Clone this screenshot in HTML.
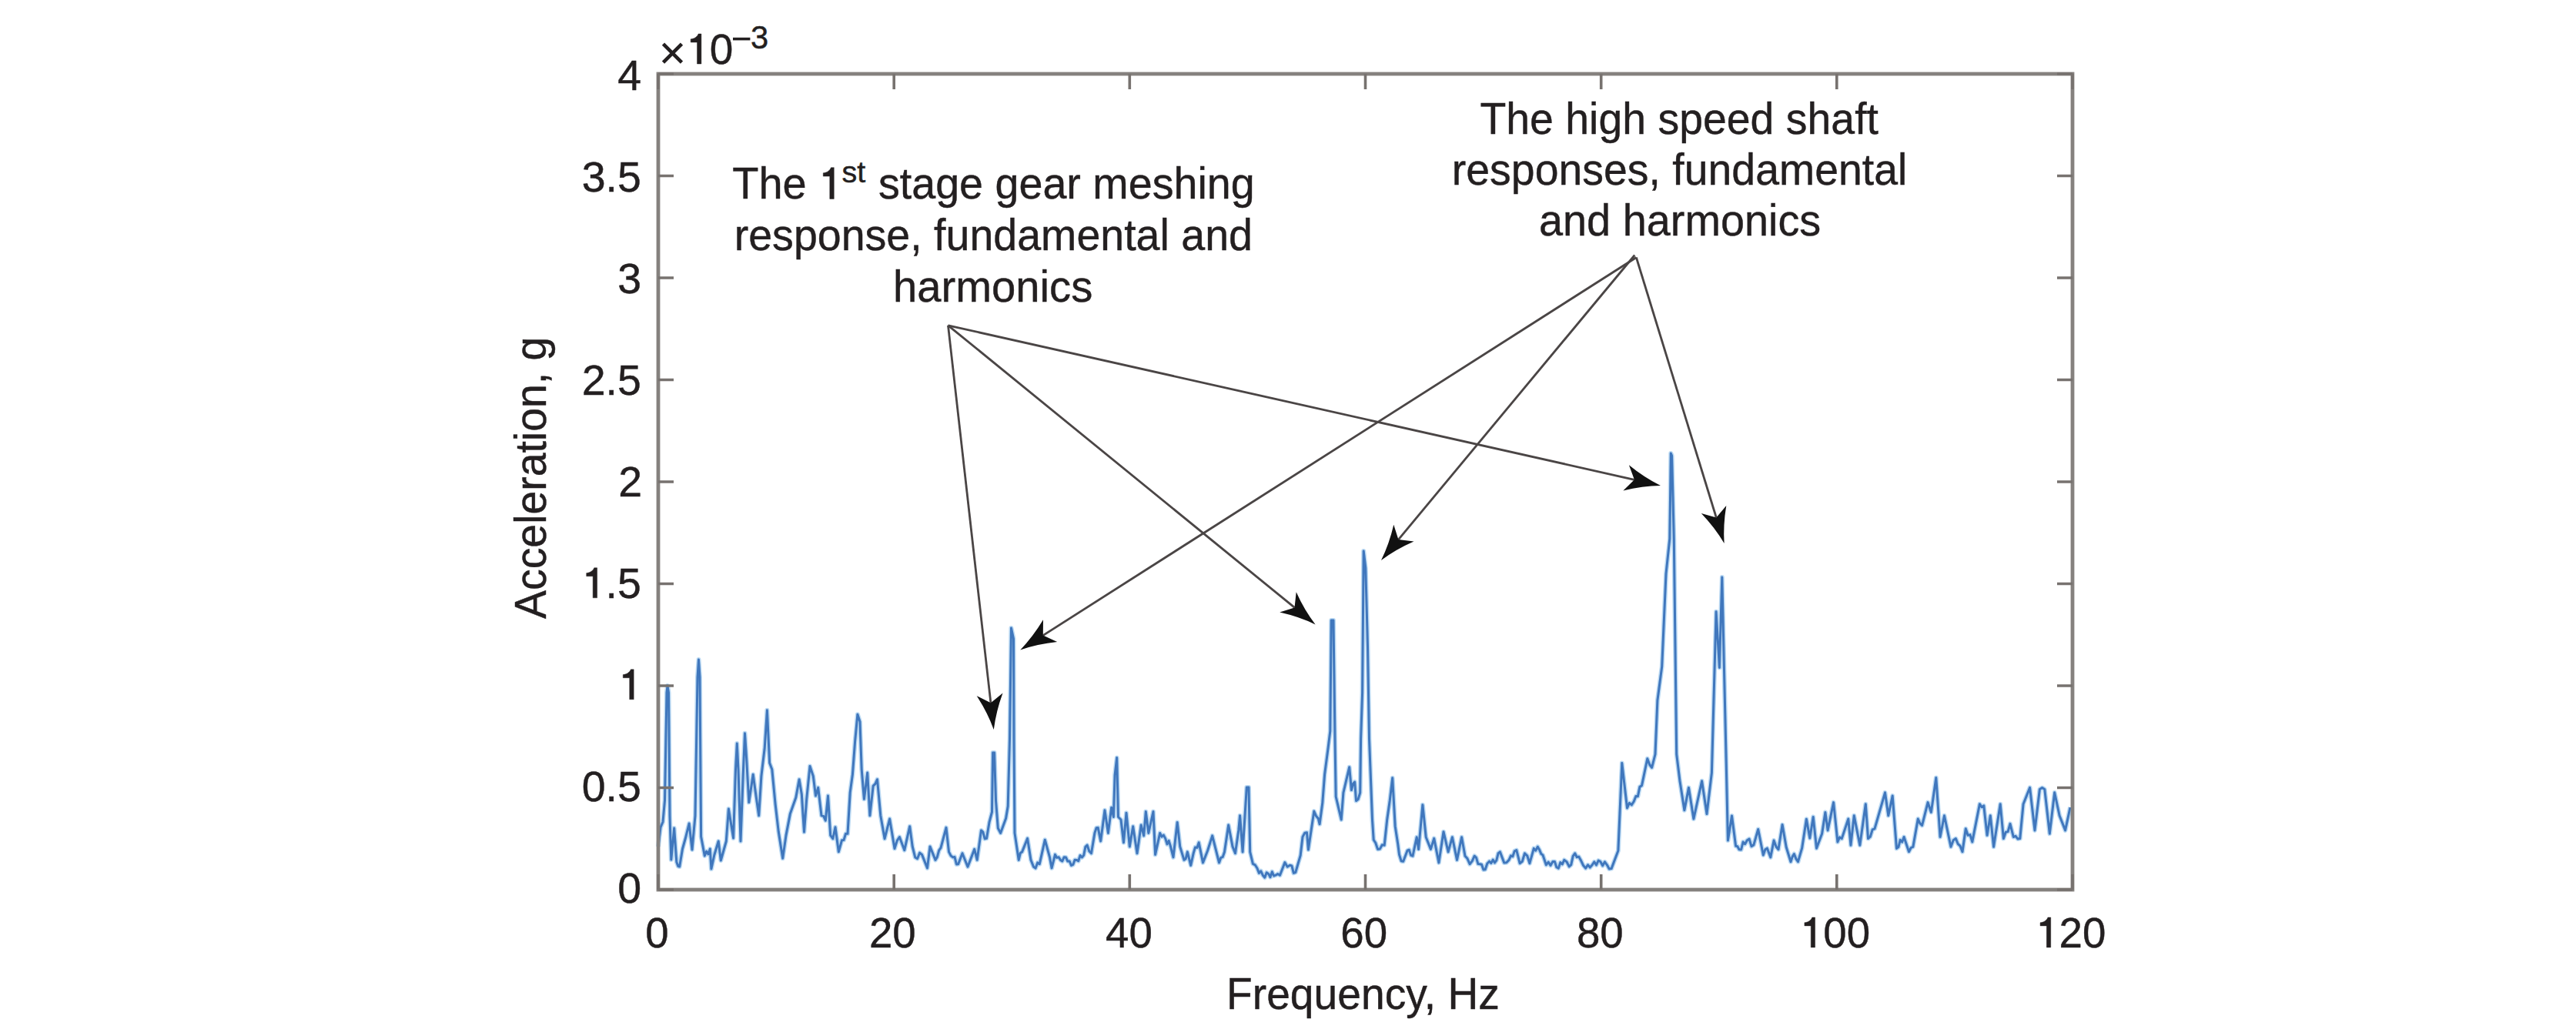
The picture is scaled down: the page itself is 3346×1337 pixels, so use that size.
<!DOCTYPE html>
<html><head><meta charset="utf-8"><style>
html,body{margin:0;padding:0;background:#fff;width:3346px;height:1337px;overflow:hidden}
svg{display:block;font-family:"Liberation Sans",sans-serif;fill:#231f20} text{stroke:#231f20;stroke-width:0.45px} .one{fill-opacity:0;stroke-opacity:0}
</style></head><body>
<svg width="3346" height="1337" viewBox="0 0 3346 1337">
<rect width="3346" height="1337" fill="#fff"/>
<polyline points="855.0,1100.0 858.0,1075.0 861.0,1068.0 863.5,1040.0 866.0,900.0 867.0,891.0 868.5,900.0 870.0,1060.0 871.8,1117.0 875.7,1076.0 878.8,1120.0 880.8,1125.5 882.7,1126.0 886.5,1103.0 890.4,1089.0 895.1,1070.0 899.0,1104.0 903.0,1060.0 906.0,880.0 907.5,857.0 909.0,880.0 910.6,1087.0 915.3,1112.0 917.6,1106.2 920.0,1109.8 922.3,1103.0 923.9,1129.0 927.8,1111.0 933.2,1093.0 936.3,1118.0 943.3,1093.0 946.4,1051.0 952.6,1089.0 955.5,1000.0 957.3,966.0 959.0,1000.0 962.0,1093.0 965.5,1000.0 967.5,952.8 969.6,984.9 972.8,1042.6 978.2,1006.3 981.4,1029.8 985.7,1059.7 988.9,1008.4 993.2,972.0 996.4,922.8 999.6,991.3 1002.8,999.8 1007.1,1044.8 1011.3,1081.1 1016.7,1115.3 1021.0,1085.4 1026.3,1057.6 1033.8,1036.2 1038.1,1012.7 1041.3,1031.9 1044.5,1081.1 1047.7,1038.3 1052.0,995.6 1056.3,1008.4 1059.5,1034.1 1062.7,1023.4 1067.0,1059.7 1069.7,1060.4 1072.3,1066.1 1075.5,1034.1 1078.7,1085.4 1081.8,1089.7 1085.0,1074.7 1089.3,1106.8 1093.5,1091.8 1096.0,1091.6 1098.5,1083.3 1101.0,1083.3 1104.2,1029.8 1107.4,1006.3 1110.6,963.5 1113.9,928.2 1117.0,937.8 1119.2,999.8 1122.4,1038.3 1126.7,1004.1 1129.9,1059.7 1134.2,1021.2 1136.8,1018.7 1139.5,1012.7 1143.8,1059.7 1149.1,1089.7 1155.6,1064.0 1162.0,1102.5 1165.2,1092.4 1168.4,1087.5 1174.8,1104.7 1181.7,1073.7 1185.2,1099.9 1188.7,1113.9 1191.6,1115.7 1194.6,1108.1 1197.5,1110.4 1204.5,1127.9 1208.0,1099.9 1215.0,1117.4 1217.3,1113.6 1219.7,1104.9 1222.0,1101.7 1229.0,1075.4 1232.5,1106.9 1235.1,1111.9 1237.7,1113.9 1240.0,1113.4 1242.4,1122.9 1244.7,1122.7 1250.0,1108.7 1257.0,1126.2 1265.7,1103.4 1269.2,1117.4 1274.5,1078.9 1276.8,1081.1 1279.2,1089.9 1281.5,1089.4 1285.0,1068.4 1288.5,1055.0 1289.6,978.0 1291.6,978.0 1293.5,1040.0 1296.3,1076.0 1299.6,1082.4 1306.6,1063.2 1309.2,1047.5 1311.5,960.0 1313.5,816.0 1316.5,830.0 1317.0,960.0 1318.0,1082.4 1323.2,1117.4 1325.4,1108.2 1327.6,1106.9 1334.6,1089.4 1339.0,1117.4 1342.5,1126.2 1345.1,1128.1 1347.7,1120.9 1350.3,1122.7 1357.3,1091.2 1363.5,1113.9 1366.1,1127.9 1370.5,1110.4 1372.8,1114.4 1375.2,1113.8 1377.5,1117.4 1379.8,1118.9 1382.2,1113.7 1384.5,1113.9 1386.8,1119.1 1389.2,1119.0 1391.5,1124.4 1393.8,1123.4 1396.1,1117.2 1398.4,1117.4 1400.7,1118.7 1403.1,1111.5 1405.4,1113.9 1407.7,1111.3 1409.9,1100.4 1412.2,1098.2 1414.8,1106.0 1417.5,1108.7 1421.9,1082.4 1424.1,1075.8 1426.2,1075.4 1429.7,1092.9 1435.0,1052.7 1439.4,1082.4 1443.7,1049.2 1446.4,1061.5 1448.1,1007.2 1450.7,984.5 1452.5,1061.5 1456.0,1065.0 1459.5,1094.7 1463.0,1056.2 1467.3,1099.9 1471.7,1073.7 1477.0,1108.7 1482.2,1072.0 1485.7,1085.9 1488.3,1054.5 1491.8,1082.4 1498.0,1054.5 1500.6,1110.4 1506.7,1082.4 1509.0,1087.2 1511.4,1085.1 1513.7,1089.4 1516.0,1096.9 1518.2,1092.4 1520.5,1099.9 1524.0,1113.9 1529.2,1068.4 1532.7,1099.9 1538.0,1117.4 1540.2,1115.7 1542.4,1106.9 1546.7,1124.4 1550.2,1108.7 1552.5,1100.9 1554.9,1101.4 1557.2,1094.7 1562.5,1120.9 1568.6,1105.2 1574.7,1085.9 1579.1,1103.4 1583.5,1120.9 1585.8,1114.4 1588.2,1113.6 1590.5,1106.9 1595.7,1072.0 1601.0,1099.9 1604.5,1108.7 1608.8,1078.9 1610.6,1059.7 1614.1,1106.9 1619.3,1023.0 1622.0,1023.0 1623.7,1106.9 1627.4,1122.4 1630.2,1123.8 1632.9,1128.0 1635.4,1134.4 1637.8,1131.8 1640.3,1137.2 1642.8,1140.2 1645.2,1133.7 1647.7,1135.4 1650.0,1139.7 1652.3,1132.7 1654.6,1138.0 1656.9,1137.2 1659.7,1135.4 1662.5,1137.2 1668.9,1120.6 1672.2,1126.2 1675.4,1124.3 1677.9,1124.9 1680.3,1134.4 1682.8,1133.5 1689.2,1111.4 1692.0,1087.4 1694.8,1082.3 1697.5,1081.8 1699.4,1104.0 1706.8,1054.1 1709.5,1060.2 1712.3,1063.4 1714.1,1070.8 1717.8,1043.1 1720.6,1006.2 1725.2,971.1 1727.8,950.0 1729.2,806.0 1732.0,806.0 1734.0,960.0 1735.2,1035.2 1742.2,1065.0 1744.9,1030.0 1752.7,996.7 1755.4,1026.5 1757.6,1018.3 1759.7,1016.0 1761.5,1040.5 1764.1,1038.6 1766.7,1030.0 1767.6,960.0 1769.6,900.0 1771.2,716.0 1773.8,738.0 1776.5,840.0 1778.5,960.0 1782.5,1065.0 1784.2,1091.2 1786.8,1095.3 1789.5,1103.4 1792.4,1103.1 1795.3,1097.8 1798.2,1098.2 1801.7,1065.0 1805.2,1040.5 1808.7,1010.7 1812.2,1073.7 1815.7,1096.4 1817.5,1110.4 1820.1,1118.7 1822.7,1119.2 1828.0,1105.2 1830.3,1104.2 1832.7,1111.4 1835.0,1112.2 1840.2,1087.7 1842.6,1103.4 1847.9,1045.7 1852.2,1087.7 1858.4,1103.4 1862.7,1089.4 1868.9,1120.9 1875.0,1080.7 1881.1,1106.9 1886.4,1087.7 1892.5,1117.4 1898.6,1087.7 1903.0,1112.2 1906.0,1115.6 1909.1,1122.7 1912.2,1118.9 1915.2,1112.2 1917.5,1114.3 1919.9,1122.6 1922.2,1122.7 1924.5,1123.3 1926.9,1130.1 1929.2,1129.7 1931.8,1122.0 1934.5,1119.2 1936.8,1121.5 1939.2,1117.1 1941.5,1120.9 1943.8,1117.8 1946.1,1108.6 1948.4,1106.9 1953.7,1120.9 1956.8,1120.7 1960.0,1117.4 1962.5,1111.8 1964.9,1112.8 1967.3,1105.8 1969.8,1104.6 1974.1,1121.7 1977.3,1119.2 1980.5,1108.8 1983.7,1111.8 1986.9,1121.7 1992.3,1102.4 1994.8,1105.2 1997.3,1100.2 1999.8,1104.6 2001.9,1109.6 2004.0,1111.0 2008.3,1123.8 2011.2,1120.1 2014.0,1124.5 2016.9,1119.5 2019.4,1119.4 2021.8,1126.7 2024.3,1128.1 2026.8,1120.6 2029.3,1122.8 2031.8,1117.4 2035.0,1119.7 2038.2,1125.9 2040.7,1123.6 2043.2,1112.4 2045.7,1108.8 2048.2,1113.7 2050.7,1113.1 2053.2,1117.4 2056.4,1124.2 2059.6,1128.1 2062.5,1123.8 2065.3,1127.1 2068.2,1123.8 2070.8,1119.8 2073.5,1123.9 2076.2,1118.1 2078.8,1119.5 2081.7,1124.8 2084.5,1119.8 2087.4,1123.8 2090.2,1129.0 2093.1,1128.6 2101.9,1105.3 2106.8,991.6 2113.5,1049.9 2116.4,1043.4 2119.4,1045.8 2122.3,1041.2 2124.9,1034.5 2127.4,1034.7 2129.9,1022.4 2132.5,1020.8 2139.8,985.8 2142.7,993.5 2145.6,997.4 2150.0,980.0 2152.9,910.0 2158.7,866.2 2164.0,745.7 2168.8,700.0 2170.3,589.0 2171.6,592.0 2174.3,700.0 2176.0,840.0 2177.7,980.0 2182.0,1015.0 2187.9,1052.8 2193.5,1023.4 2199.9,1064.0 2210.6,1014.8 2217.0,1057.5 2223.4,1004.1 2229.1,794.8 2233.4,867.4 2236.8,750.0 2242.2,990.0 2244.4,1092.0 2249.5,1060.0 2254.6,1099.3 2256.8,1099.8 2259.0,1103.7 2261.6,1104.0 2264.1,1094.0 2266.6,1096.7 2269.2,1092.0 2272.1,1090.1 2275.0,1099.6 2277.9,1097.9 2283.7,1077.5 2290.3,1111.0 2292.9,1103.7 2295.4,1102.2 2299.8,1113.9 2304.1,1092.0 2307.1,1100.2 2310.0,1103.7 2315.1,1071.6 2320.2,1100.8 2326.0,1119.7 2328.2,1113.1 2330.4,1109.5 2332.9,1115.9 2335.5,1119.7 2340.6,1102.2 2346.4,1064.3 2350.8,1089.1 2355.2,1061.4 2359.5,1102.2 2366.6,1083.2 2370.9,1055.4 2374.1,1078.9 2381.6,1042.6 2386.9,1093.9 2389.6,1087.9 2392.3,1089.6 2400.8,1064.0 2404.0,1098.2 2408.3,1059.7 2415.8,1098.2 2423.3,1044.7 2426.5,1089.6 2429.3,1087.2 2432.2,1077.9 2435.0,1076.8 2448.5,1029.8 2452.8,1059.7 2458.2,1034.0 2463.5,1102.4 2465.9,1100.6 2468.3,1091.4 2470.7,1094.1 2473.1,1087.5 2479.5,1106.7 2482.2,1101.5 2484.9,1100.3 2491.3,1064.0 2493.9,1069.9 2496.6,1072.5 2504.1,1042.6 2508.4,1055.4 2514.8,1010.5 2520.1,1087.5 2525.5,1059.7 2534.0,1100.3 2537.2,1091.7 2540.4,1089.6 2543.3,1096.7 2546.1,1099.2 2549.0,1106.7 2553.3,1076.8 2556.1,1085.3 2559.0,1084.6 2561.8,1093.9 2571.4,1044.7 2574.1,1048.7 2576.8,1046.9 2581.1,1085.3 2585.3,1059.7 2589.6,1100.3 2598.2,1044.7 2602.4,1089.6 2605.3,1081.2 2608.1,1080.6 2611.0,1070.4 2615.3,1087.5 2618.1,1086.4 2621.0,1090.1 2623.8,1089.6 2628.1,1044.7 2636.6,1023.4 2643.0,1078.9 2649.4,1025.5 2652.6,1023.5 2655.8,1025.5 2662.3,1083.2 2668.7,1029.8 2675.1,1059.7 2682.6,1078.9 2689.0,1049.0" fill="none" stroke="#bcdaf3" stroke-width="6.0" stroke-linejoin="round"/>
<polyline points="855.0,1100.0 858.0,1075.0 861.0,1068.0 863.5,1040.0 866.0,900.0 867.0,891.0 868.5,900.0 870.0,1060.0 871.8,1117.0 875.7,1076.0 878.8,1120.0 880.8,1125.5 882.7,1126.0 886.5,1103.0 890.4,1089.0 895.1,1070.0 899.0,1104.0 903.0,1060.0 906.0,880.0 907.5,857.0 909.0,880.0 910.6,1087.0 915.3,1112.0 917.6,1106.2 920.0,1109.8 922.3,1103.0 923.9,1129.0 927.8,1111.0 933.2,1093.0 936.3,1118.0 943.3,1093.0 946.4,1051.0 952.6,1089.0 955.5,1000.0 957.3,966.0 959.0,1000.0 962.0,1093.0 965.5,1000.0 967.5,952.8 969.6,984.9 972.8,1042.6 978.2,1006.3 981.4,1029.8 985.7,1059.7 988.9,1008.4 993.2,972.0 996.4,922.8 999.6,991.3 1002.8,999.8 1007.1,1044.8 1011.3,1081.1 1016.7,1115.3 1021.0,1085.4 1026.3,1057.6 1033.8,1036.2 1038.1,1012.7 1041.3,1031.9 1044.5,1081.1 1047.7,1038.3 1052.0,995.6 1056.3,1008.4 1059.5,1034.1 1062.7,1023.4 1067.0,1059.7 1069.7,1060.4 1072.3,1066.1 1075.5,1034.1 1078.7,1085.4 1081.8,1089.7 1085.0,1074.7 1089.3,1106.8 1093.5,1091.8 1096.0,1091.6 1098.5,1083.3 1101.0,1083.3 1104.2,1029.8 1107.4,1006.3 1110.6,963.5 1113.9,928.2 1117.0,937.8 1119.2,999.8 1122.4,1038.3 1126.7,1004.1 1129.9,1059.7 1134.2,1021.2 1136.8,1018.7 1139.5,1012.7 1143.8,1059.7 1149.1,1089.7 1155.6,1064.0 1162.0,1102.5 1165.2,1092.4 1168.4,1087.5 1174.8,1104.7 1181.7,1073.7 1185.2,1099.9 1188.7,1113.9 1191.6,1115.7 1194.6,1108.1 1197.5,1110.4 1204.5,1127.9 1208.0,1099.9 1215.0,1117.4 1217.3,1113.6 1219.7,1104.9 1222.0,1101.7 1229.0,1075.4 1232.5,1106.9 1235.1,1111.9 1237.7,1113.9 1240.0,1113.4 1242.4,1122.9 1244.7,1122.7 1250.0,1108.7 1257.0,1126.2 1265.7,1103.4 1269.2,1117.4 1274.5,1078.9 1276.8,1081.1 1279.2,1089.9 1281.5,1089.4 1285.0,1068.4 1288.5,1055.0 1289.6,978.0 1291.6,978.0 1293.5,1040.0 1296.3,1076.0 1299.6,1082.4 1306.6,1063.2 1309.2,1047.5 1311.5,960.0 1313.5,816.0 1316.5,830.0 1317.0,960.0 1318.0,1082.4 1323.2,1117.4 1325.4,1108.2 1327.6,1106.9 1334.6,1089.4 1339.0,1117.4 1342.5,1126.2 1345.1,1128.1 1347.7,1120.9 1350.3,1122.7 1357.3,1091.2 1363.5,1113.9 1366.1,1127.9 1370.5,1110.4 1372.8,1114.4 1375.2,1113.8 1377.5,1117.4 1379.8,1118.9 1382.2,1113.7 1384.5,1113.9 1386.8,1119.1 1389.2,1119.0 1391.5,1124.4 1393.8,1123.4 1396.1,1117.2 1398.4,1117.4 1400.7,1118.7 1403.1,1111.5 1405.4,1113.9 1407.7,1111.3 1409.9,1100.4 1412.2,1098.2 1414.8,1106.0 1417.5,1108.7 1421.9,1082.4 1424.1,1075.8 1426.2,1075.4 1429.7,1092.9 1435.0,1052.7 1439.4,1082.4 1443.7,1049.2 1446.4,1061.5 1448.1,1007.2 1450.7,984.5 1452.5,1061.5 1456.0,1065.0 1459.5,1094.7 1463.0,1056.2 1467.3,1099.9 1471.7,1073.7 1477.0,1108.7 1482.2,1072.0 1485.7,1085.9 1488.3,1054.5 1491.8,1082.4 1498.0,1054.5 1500.6,1110.4 1506.7,1082.4 1509.0,1087.2 1511.4,1085.1 1513.7,1089.4 1516.0,1096.9 1518.2,1092.4 1520.5,1099.9 1524.0,1113.9 1529.2,1068.4 1532.7,1099.9 1538.0,1117.4 1540.2,1115.7 1542.4,1106.9 1546.7,1124.4 1550.2,1108.7 1552.5,1100.9 1554.9,1101.4 1557.2,1094.7 1562.5,1120.9 1568.6,1105.2 1574.7,1085.9 1579.1,1103.4 1583.5,1120.9 1585.8,1114.4 1588.2,1113.6 1590.5,1106.9 1595.7,1072.0 1601.0,1099.9 1604.5,1108.7 1608.8,1078.9 1610.6,1059.7 1614.1,1106.9 1619.3,1023.0 1622.0,1023.0 1623.7,1106.9 1627.4,1122.4 1630.2,1123.8 1632.9,1128.0 1635.4,1134.4 1637.8,1131.8 1640.3,1137.2 1642.8,1140.2 1645.2,1133.7 1647.7,1135.4 1650.0,1139.7 1652.3,1132.7 1654.6,1138.0 1656.9,1137.2 1659.7,1135.4 1662.5,1137.2 1668.9,1120.6 1672.2,1126.2 1675.4,1124.3 1677.9,1124.9 1680.3,1134.4 1682.8,1133.5 1689.2,1111.4 1692.0,1087.4 1694.8,1082.3 1697.5,1081.8 1699.4,1104.0 1706.8,1054.1 1709.5,1060.2 1712.3,1063.4 1714.1,1070.8 1717.8,1043.1 1720.6,1006.2 1725.2,971.1 1727.8,950.0 1729.2,806.0 1732.0,806.0 1734.0,960.0 1735.2,1035.2 1742.2,1065.0 1744.9,1030.0 1752.7,996.7 1755.4,1026.5 1757.6,1018.3 1759.7,1016.0 1761.5,1040.5 1764.1,1038.6 1766.7,1030.0 1767.6,960.0 1769.6,900.0 1771.2,716.0 1773.8,738.0 1776.5,840.0 1778.5,960.0 1782.5,1065.0 1784.2,1091.2 1786.8,1095.3 1789.5,1103.4 1792.4,1103.1 1795.3,1097.8 1798.2,1098.2 1801.7,1065.0 1805.2,1040.5 1808.7,1010.7 1812.2,1073.7 1815.7,1096.4 1817.5,1110.4 1820.1,1118.7 1822.7,1119.2 1828.0,1105.2 1830.3,1104.2 1832.7,1111.4 1835.0,1112.2 1840.2,1087.7 1842.6,1103.4 1847.9,1045.7 1852.2,1087.7 1858.4,1103.4 1862.7,1089.4 1868.9,1120.9 1875.0,1080.7 1881.1,1106.9 1886.4,1087.7 1892.5,1117.4 1898.6,1087.7 1903.0,1112.2 1906.0,1115.6 1909.1,1122.7 1912.2,1118.9 1915.2,1112.2 1917.5,1114.3 1919.9,1122.6 1922.2,1122.7 1924.5,1123.3 1926.9,1130.1 1929.2,1129.7 1931.8,1122.0 1934.5,1119.2 1936.8,1121.5 1939.2,1117.1 1941.5,1120.9 1943.8,1117.8 1946.1,1108.6 1948.4,1106.9 1953.7,1120.9 1956.8,1120.7 1960.0,1117.4 1962.5,1111.8 1964.9,1112.8 1967.3,1105.8 1969.8,1104.6 1974.1,1121.7 1977.3,1119.2 1980.5,1108.8 1983.7,1111.8 1986.9,1121.7 1992.3,1102.4 1994.8,1105.2 1997.3,1100.2 1999.8,1104.6 2001.9,1109.6 2004.0,1111.0 2008.3,1123.8 2011.2,1120.1 2014.0,1124.5 2016.9,1119.5 2019.4,1119.4 2021.8,1126.7 2024.3,1128.1 2026.8,1120.6 2029.3,1122.8 2031.8,1117.4 2035.0,1119.7 2038.2,1125.9 2040.7,1123.6 2043.2,1112.4 2045.7,1108.8 2048.2,1113.7 2050.7,1113.1 2053.2,1117.4 2056.4,1124.2 2059.6,1128.1 2062.5,1123.8 2065.3,1127.1 2068.2,1123.8 2070.8,1119.8 2073.5,1123.9 2076.2,1118.1 2078.8,1119.5 2081.7,1124.8 2084.5,1119.8 2087.4,1123.8 2090.2,1129.0 2093.1,1128.6 2101.9,1105.3 2106.8,991.6 2113.5,1049.9 2116.4,1043.4 2119.4,1045.8 2122.3,1041.2 2124.9,1034.5 2127.4,1034.7 2129.9,1022.4 2132.5,1020.8 2139.8,985.8 2142.7,993.5 2145.6,997.4 2150.0,980.0 2152.9,910.0 2158.7,866.2 2164.0,745.7 2168.8,700.0 2170.3,589.0 2171.6,592.0 2174.3,700.0 2176.0,840.0 2177.7,980.0 2182.0,1015.0 2187.9,1052.8 2193.5,1023.4 2199.9,1064.0 2210.6,1014.8 2217.0,1057.5 2223.4,1004.1 2229.1,794.8 2233.4,867.4 2236.8,750.0 2242.2,990.0 2244.4,1092.0 2249.5,1060.0 2254.6,1099.3 2256.8,1099.8 2259.0,1103.7 2261.6,1104.0 2264.1,1094.0 2266.6,1096.7 2269.2,1092.0 2272.1,1090.1 2275.0,1099.6 2277.9,1097.9 2283.7,1077.5 2290.3,1111.0 2292.9,1103.7 2295.4,1102.2 2299.8,1113.9 2304.1,1092.0 2307.1,1100.2 2310.0,1103.7 2315.1,1071.6 2320.2,1100.8 2326.0,1119.7 2328.2,1113.1 2330.4,1109.5 2332.9,1115.9 2335.5,1119.7 2340.6,1102.2 2346.4,1064.3 2350.8,1089.1 2355.2,1061.4 2359.5,1102.2 2366.6,1083.2 2370.9,1055.4 2374.1,1078.9 2381.6,1042.6 2386.9,1093.9 2389.6,1087.9 2392.3,1089.6 2400.8,1064.0 2404.0,1098.2 2408.3,1059.7 2415.8,1098.2 2423.3,1044.7 2426.5,1089.6 2429.3,1087.2 2432.2,1077.9 2435.0,1076.8 2448.5,1029.8 2452.8,1059.7 2458.2,1034.0 2463.5,1102.4 2465.9,1100.6 2468.3,1091.4 2470.7,1094.1 2473.1,1087.5 2479.5,1106.7 2482.2,1101.5 2484.9,1100.3 2491.3,1064.0 2493.9,1069.9 2496.6,1072.5 2504.1,1042.6 2508.4,1055.4 2514.8,1010.5 2520.1,1087.5 2525.5,1059.7 2534.0,1100.3 2537.2,1091.7 2540.4,1089.6 2543.3,1096.7 2546.1,1099.2 2549.0,1106.7 2553.3,1076.8 2556.1,1085.3 2559.0,1084.6 2561.8,1093.9 2571.4,1044.7 2574.1,1048.7 2576.8,1046.9 2581.1,1085.3 2585.3,1059.7 2589.6,1100.3 2598.2,1044.7 2602.4,1089.6 2605.3,1081.2 2608.1,1080.6 2611.0,1070.4 2615.3,1087.5 2618.1,1086.4 2621.0,1090.1 2623.8,1089.6 2628.1,1044.7 2636.6,1023.4 2643.0,1078.9 2649.4,1025.5 2652.6,1023.5 2655.8,1025.5 2662.3,1083.2 2668.7,1029.8 2675.1,1059.7 2682.6,1078.9 2689.0,1049.0" fill="none" stroke="#4077bd" stroke-width="3.0" stroke-linejoin="round"/>
<rect x="855" y="96" width="1837" height="1060" fill="none" stroke="#85817e" stroke-width="4.8"/>
<path d="M855,96.0H875M2692,96.0H2672M855,228.5H875M2692,228.5H2672M855,361.0H875M2692,361.0H2672M855,493.5H875M2692,493.5H2672M855,626.0H875M2692,626.0H2672M855,758.5H875M2692,758.5H2672M855,891.0H875M2692,891.0H2672M855,1023.5H875M2692,1023.5H2672M855,1156.0H875M2692,1156.0H2672M855.0,1156V1136M855.0,96V116M1161.2,1156V1136M1161.2,96V116M1467.3,1156V1136M1467.3,96V116M1773.5,1156V1136M1773.5,96V116M2079.7,1156V1136M2079.7,96V116M2385.8,1156V1136M2385.8,96V116M2692.0,1156V1136M2692.0,96V116" stroke="#77726f" stroke-width="3.6" fill="none"/>
<text transform="translate(802.26,1172.80) scale(1.0000,1)" font-size="55.5" >0</text>
<text transform="translate(755.68,1040.80) scale(1.0000,1)" font-size="55.5" >0.5</text>
<text transform="translate(803.25,908.80) scale(1.0000,1)" font-size="55.5" ><tspan class="one">1</tspan></text>
<text transform="translate(755.68,776.80) scale(1.0000,1)" font-size="55.5" ><tspan class="one">1</tspan>.5</text>
<text transform="translate(803.25,644.80) scale(1.0000,1)" font-size="55.5" >2</text>
<text transform="translate(755.68,512.80) scale(1.0000,1)" font-size="55.5" >2.5</text>
<text transform="translate(802.26,380.80) scale(1.0000,1)" font-size="55.5" >3</text>
<text transform="translate(755.68,248.80) scale(1.0000,1)" font-size="55.5" >3.5</text>
<text transform="translate(802.26,116.80) scale(1.0000,1)" font-size="55.5" >4</text>
<text transform="translate(838.37,1231.00) scale(0.9850,1)" font-size="55.5" >0</text>
<text transform="translate(1128.92,1231.00) scale(0.9850,1)" font-size="55.5" >20</text>
<text transform="translate(1436.06,1231.00) scale(0.9850,1)" font-size="55.5" >40</text>
<text transform="translate(1741.25,1231.00) scale(0.9850,1)" font-size="55.5" >60</text>
<text transform="translate(2047.90,1231.00) scale(0.9850,1)" font-size="55.5" >80</text>
<text transform="translate(2337.96,1231.00) scale(0.9850,1)" font-size="55.5" ><tspan class="one">1</tspan>00</text>
<text transform="translate(2644.13,1231.00) scale(0.9850,1)" font-size="55.5" ><tspan class="one">1</tspan>20</text>
<path d="M861.5,57.2L885.5,81.2M885.5,57.2L861.5,81.2" stroke="#231f20" stroke-width="4.6" fill="none"/>
<text transform="translate(891.18,83.00) scale(0.9900,1)" font-size="55.5" ><tspan class="one">1</tspan>0</text>
<rect x="952" y="48.8" width="22.4" height="3.6" fill="#231f20"/>
<text transform="translate(974.91,62.80) scale(0.9700,1)" font-size="43" >3</text>
<text transform="translate(1593.07,1310.60) scale(0.9518,1)" font-size="58" >Frequency, Hz</text>
<g transform="translate(709,804) rotate(-90)"><text transform="scale(0.9550,1)" font-size="58" x="0.00" y="0">Acceleration, g</text></g>
<text transform="translate(953.73,325.00) scale(0.9579,1)" font-size="58" >response, fundamental and</text>
<text transform="translate(1159.98,391.60) scale(0.9693,1)" font-size="58" >harmonics</text>
<text transform="translate(951.20,258.40) scale(0.9650,1)" font-size="58" >The <tspan class="one">1</tspan></text>
<text transform="translate(1093.5,236.8) scale(1.04,1)" font-size="38">st</text>
<text transform="translate(1140.91,258.40) scale(0.9598,1)" font-size="58" > stage gear meshing</text>
<text transform="translate(1922.41,174.00) scale(0.9555,1)" font-size="58" >The high speed shaft</text>
<text transform="translate(1885.84,239.70) scale(0.9555,1)" font-size="58" >responses, fundamental</text>
<text transform="translate(1999.01,306.30) scale(0.9629,1)" font-size="58" >and harmonics</text>
<line x1="1231.5" y1="422.8" x2="1286.9" y2="913.2" stroke="#4a4545" stroke-width="2.8"/>
<path d="M1290.8,948.0Q1282.8,925.8 1268.7,904.2L1286.9,913.2L1302.5,900.4Q1293.7,924.5 1290.8,948.0Z" fill="#111"/>
<line x1="1231.5" y1="422.8" x2="1681.5" y2="789.4" stroke="#4a4545" stroke-width="2.8"/>
<path d="M1708.6,811.5Q1687.3,801.2 1662.2,795.6L1681.5,789.4L1683.7,769.3Q1694.2,792.7 1708.6,811.5Z" fill="#111"/>
<line x1="1231.5" y1="422.8" x2="2122.9" y2="623.3" stroke="#4a4545" stroke-width="2.8"/>
<path d="M2157.0,631.0Q2133.4,631.3 2108.4,637.5L2122.9,623.3L2115.9,604.3Q2135.8,620.6 2157.0,631.0Z" fill="#111"/>
<line x1="2125.4" y1="334.5" x2="1354.8" y2="825.6" stroke="#4a4545" stroke-width="2.8"/>
<path d="M1325.3,844.4Q1341.7,827.4 1355.0,805.3L1354.8,825.6L1373.2,834.0Q1347.7,836.7 1325.3,844.4Z" fill="#111"/>
<line x1="2123.3" y1="331.5" x2="1816.4" y2="701.1" stroke="#4a4545" stroke-width="2.8"/>
<path d="M1794.0,728.0Q1804.5,706.8 1810.3,681.8L1816.4,701.1L1836.5,703.5Q1812.9,713.8 1794.0,728.0Z" fill="#111"/>
<line x1="2125.4" y1="334.5" x2="2229.3" y2="672.5" stroke="#4a4545" stroke-width="2.8"/>
<path d="M2239.6,706.0Q2227.6,685.6 2209.8,667.0L2229.3,672.5L2242.3,657.0Q2238.1,682.4 2239.6,706.0Z" fill="#111"/>
<path transform="matrix(1.0000,0.0000,0.0000,1.0000,803.25,908.80) scale(55.5)" d="M0.359,0L0.359,-0.703L0.290,-0.703C0.268,-0.640 0.200,-0.588 0.109,-0.580L0.109,-0.506L0.261,-0.506L0.261,0Z" fill="#231f20" stroke="#231f20" stroke-width="0.0081"/>
<path transform="matrix(1.0000,0.0000,0.0000,1.0000,755.68,776.80) scale(55.5)" d="M0.359,0L0.359,-0.703L0.290,-0.703C0.268,-0.640 0.200,-0.588 0.109,-0.580L0.109,-0.506L0.261,-0.506L0.261,0Z" fill="#231f20" stroke="#231f20" stroke-width="0.0081"/>
<path transform="matrix(0.9850,0.0000,0.0000,1.0000,2337.96,1231.00) scale(55.5)" d="M0.359,0L0.359,-0.703L0.290,-0.703C0.268,-0.640 0.200,-0.588 0.109,-0.580L0.109,-0.506L0.261,-0.506L0.261,0Z" fill="#231f20" stroke="#231f20" stroke-width="0.0081"/>
<path transform="matrix(0.9850,0.0000,0.0000,1.0000,2644.13,1231.00) scale(55.5)" d="M0.359,0L0.359,-0.703L0.290,-0.703C0.268,-0.640 0.200,-0.588 0.109,-0.580L0.109,-0.506L0.261,-0.506L0.261,0Z" fill="#231f20" stroke="#231f20" stroke-width="0.0081"/>
<path transform="matrix(0.9900,0.0000,0.0000,1.0000,891.18,83.00) scale(55.5)" d="M0.359,0L0.359,-0.703L0.290,-0.703C0.268,-0.640 0.200,-0.588 0.109,-0.580L0.109,-0.506L0.261,-0.506L0.261,0Z" fill="#231f20" stroke="#231f20" stroke-width="0.0081"/>
<path transform="matrix(0.9650,0.0000,0.0000,1.0000,1063.18,258.40) scale(58)" d="M0.359,0L0.359,-0.703L0.290,-0.703C0.268,-0.640 0.200,-0.588 0.109,-0.580L0.109,-0.506L0.261,-0.506L0.261,0Z" fill="#231f20" stroke="#231f20" stroke-width="0.0078"/>
</svg></body></html>
